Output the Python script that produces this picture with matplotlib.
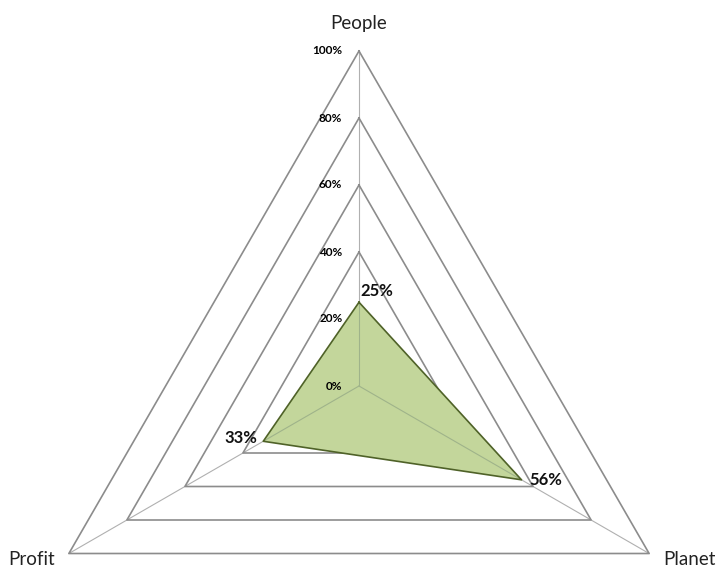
import numpy as np
import matplotlib
matplotlib.use("Agg")
import matplotlib.pyplot as plt

categories = ["People", "Planet", "Profit"]
values = [0.25, 0.56, 0.33]
value_labels = ["25%", "56%", "33%"]
grid_levels = [0.2, 0.4, 0.6, 0.8, 1.0]
tick_levels = [0.0, 0.2, 0.4, 0.6, 0.8, 1.0]
tick_labels = ["0%", "20%", "40%", "60%", "80%", "100%"]

FONT = ["Lato", "DejaVu Sans"]

fig = plt.figure(figsize=(7.21, 5.68), dpi=100)
ax = fig.add_axes([0, 0, 1, 1])
scale = 335.0
cx, cy = 359.0, 182.0
ax.set_xlim(-cx / scale, (721 - cx) / scale)
ax.set_ylim(-cy / scale, (568 - cy) / scale)
ax.set_aspect("equal")
ax.axis("off")

# angles: People at top, clockwise
angles = np.deg2rad(90 - np.arange(len(categories)) * 360.0 / len(categories))
ux, uy = np.cos(angles), np.sin(angles)

def closed(a):
    return np.append(a, a[0])

# spokes
for x, y in zip(ux, uy):
    ax.plot([0, x], [0, y], color="#b0b0b0", lw=0.8, zorder=1)

# grid triangles
for lv in grid_levels:
    ax.plot(closed(ux * lv), closed(uy * lv), color="#8c8c8c", lw=1.2, zorder=2)

# data polygon
vx = ux * np.array(values)
vy = uy * np.array(values)
ax.fill(vx, vy, facecolor="#c3d69b", edgecolor="none", zorder=3)
ax.plot(closed(vx), closed(vy), color="#4f6228", lw=1.2, zorder=4)
for x, y, v in zip(ux, uy, values):
    ax.plot([0, x * v], [0, y * v], color="#9fb38a", lw=0.8, zorder=3.5)

# tick labels
for lv, lab in zip(tick_levels, tick_labels):
    ax.annotate(lab, (0, lv), xytext=(-12, 0), textcoords="offset points",
                ha="right", va="center", fontsize=8.5, fontweight="bold",
                family=FONT, color="#000000")

# data labels
offsets = [(1, 2, "left", "bottom"), (6, 0, "left", "center"), (-4, 2, "right", "center")]
for x, y, lab, (dx, dy, ha, va) in zip(vx, vy, value_labels, offsets):
    ax.annotate(lab, (x, y), xytext=(dx, dy), textcoords="offset points",
                ha=ha, va=va, fontsize=12, fontweight="bold", family=FONT,
                color="#111111")

# category labels
cat_offsets = [(0, 14, "center", "bottom"), (10, -4, "left", "center"), (-10, -4, "right", "center")]
for x, y, lab, (dx, dy, ha, va) in zip(ux, uy, categories, cat_offsets):
    ax.annotate(lab, (x, y), xytext=(dx, dy), textcoords="offset points",
                ha=ha, va=va, fontsize=13.5, family=FONT, color="#222222")

fig.savefig("out.png", dpi=100)
